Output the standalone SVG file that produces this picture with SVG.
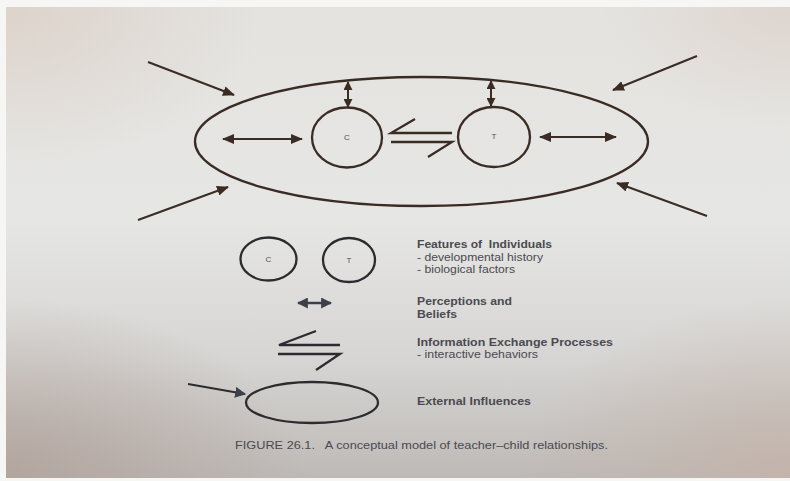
<svg xmlns="http://www.w3.org/2000/svg" width="790" height="481" viewBox="0 0 790 481">
<defs>
<linearGradient id="bg" x1="0" y1="0" x2="0" y2="1">
<stop offset="0" stop-color="#e4e3e0"/>
<stop offset="0.45" stop-color="#e6e6e4"/>
<stop offset="0.75" stop-color="#d6d5d3"/>
<stop offset="1" stop-color="#bdb9b6"/>
</linearGradient>
<radialGradient id="tl" cx="0" cy="0" r="1">
<stop offset="0" stop-color="#d8c8bc" stop-opacity="0.6"/>
<stop offset="1" stop-color="#d8c8bc" stop-opacity="0"/>
</radialGradient>
<radialGradient id="bl" cx="0" cy="1" r="1">
<stop offset="0" stop-color="#b0a098" stop-opacity="0.8"/>
<stop offset="1" stop-color="#b0a098" stop-opacity="0"/>
</radialGradient>
<radialGradient id="br" cx="1" cy="1" r="1">
<stop offset="0" stop-color="#c4b2a8" stop-opacity="0.8"/>
<stop offset="1" stop-color="#c4b2a8" stop-opacity="0"/>
</radialGradient>
<radialGradient id="tr" cx="1" cy="0" r="1">
<stop offset="0" stop-color="#d8c6bc" stop-opacity="0.5"/>
<stop offset="1" stop-color="#d8c6bc" stop-opacity="0"/>
</radialGradient>
<marker id="ah" viewBox="0 0 12 10" refX="11" refY="5" markerWidth="12" markerHeight="10" markerUnits="userSpaceOnUse" orient="auto-start-reverse">
<path d="M0,0 L12,5 L0,10 Z" fill="#3a2c24"/>
</marker>
<marker id="ahs" viewBox="0 0 10 10" refX="9" refY="5" markerWidth="9" markerHeight="9" markerUnits="userSpaceOnUse" orient="auto-start-reverse">
<path d="M0,0 L10,5 L0,10 Z" fill="#3a2c24"/>
</marker>
<marker id="ahl" viewBox="0 0 10 10" refX="9" refY="5" markerWidth="11" markerHeight="11" markerUnits="userSpaceOnUse" orient="auto-start-reverse">
<path d="M0,0 L10,5 L0,10 Z" fill="#3c4048"/>
</marker>
</defs>
<style>
.ln{fill:none;stroke:#3a2c24;stroke-width:2.3}
.lg{fill:none;stroke:#2c2c30;stroke-width:2.3}
.ar{stroke:#3a2c24;stroke-width:2;fill:none}
.t{font-family:"Liberation Sans",Arial,sans-serif;fill:#4a4a50}
.h{font-weight:bold;font-size:10.5px}
.s{font-size:10.5px}
.lbl{font-family:"Liberation Sans",Arial,sans-serif;font-size:8px;fill:#505050;text-anchor:middle}
</style>
<rect width="790" height="481" fill="#f6f6f4"/>
<rect x="6" y="7" width="784" height="471" fill="url(#bg)"/>
<rect x="6" y="7" width="260" height="160" fill="url(#tl)"/>
<rect x="6" y="300" width="300" height="178" fill="url(#bl)"/>
<rect x="520" y="300" width="270" height="178" fill="url(#br)"/>
<rect x="600" y="7" width="190" height="120" fill="url(#tr)"/>

<g id="connectors">
<line class="ar" x1="148" y1="62" x2="234" y2="95" marker-end="url(#ah)"/>
<line class="ar" x1="697" y1="56" x2="613" y2="90" marker-end="url(#ah)"/>
<line class="ar" x1="138" y1="220" x2="228" y2="187" marker-end="url(#ah)"/>
<line class="ar" x1="707" y1="216" x2="617" y2="183" marker-end="url(#ah)"/>
<line class="ar" x1="348" y1="82" x2="348" y2="107" marker-start="url(#ahs)" marker-end="url(#ahs)"/>
<line class="ar" x1="491" y1="81" x2="491" y2="106" marker-start="url(#ahs)" marker-end="url(#ahs)"/>
<line class="ar" x1="223" y1="139" x2="302" y2="139" marker-start="url(#ah)" marker-end="url(#ah)"/>
<line class="ar" x1="540" y1="137" x2="616" y2="137" marker-start="url(#ah)" marker-end="url(#ah)"/>
<path class="ln" d="M415,119 L391,133 L452,133 M391,142 L452,142 L428,157"/>
</g>

<g id="environment">
<ellipse class="ln" cx="421.5" cy="141.5" rx="226.5" ry="64.5"/>
</g>
<g id="child">
<ellipse class="ln" cx="347" cy="137.5" rx="35" ry="30"/>
<text class="lbl" x="347" y="140">C</text>
</g>
<g id="teacher">
<ellipse class="ln" cx="494" cy="137" rx="36" ry="30"/>
<text class="lbl" x="494" y="139">T</text>
</g>

<g id="legend-features">
<ellipse class="lg" cx="268.5" cy="259" rx="28" ry="21.5"/>
<text class="lbl" x="268.5" y="262">C</text>
<ellipse class="lg" cx="349" cy="260" rx="26" ry="22"/>
<text class="lbl" x="349" y="263">T</text>
<text class="t h" x="417" y="248" textLength="135" lengthAdjust="spacingAndGlyphs" xml:space="preserve">Features of  Individuals</text>
<text class="t s" x="417" y="261" textLength="126" lengthAdjust="spacingAndGlyphs">- developmental history</text>
<text class="t s" x="417" y="273" textLength="98" lengthAdjust="spacingAndGlyphs">- biological factors</text>
</g>
<g id="legend-perceptions">
<line x1="298" y1="303" x2="331" y2="303" stroke="#3c4048" stroke-width="2.5" marker-start="url(#ahl)" marker-end="url(#ahl)"/>
<text class="t h" x="417" y="305" textLength="95" lengthAdjust="spacingAndGlyphs">Perceptions and</text>
<text class="t h" x="417" y="318" textLength="40" lengthAdjust="spacingAndGlyphs">Beliefs</text>
</g>
<g id="legend-exchange">
<path class="lg" d="M316,331 L279,345 L340,345 M278,354 L340,354 L316,370"/>
<text class="t h" x="417" y="346" textLength="196" lengthAdjust="spacingAndGlyphs">Information Exchange Processes</text>
<text class="t s" x="417" y="358" textLength="121" lengthAdjust="spacingAndGlyphs">- interactive behaviors</text>
</g>
<g id="legend-external">
<line x1="188" y1="384" x2="245" y2="394" stroke="#2c2c30" stroke-width="2" marker-end="url(#ahl)"/>
<ellipse class="lg" cx="312" cy="402.5" rx="66" ry="20.5"/>
<text class="t h" x="417" y="405" textLength="114" lengthAdjust="spacingAndGlyphs">External Influences</text>
</g>
<g id="caption">
<text class="t" x="235" y="449" font-size="10" textLength="373" lengthAdjust="spacingAndGlyphs" xml:space="preserve">FIGURE 26.1.   A conceptual model of teacher–child relationships.</text>
</g>
</svg>
